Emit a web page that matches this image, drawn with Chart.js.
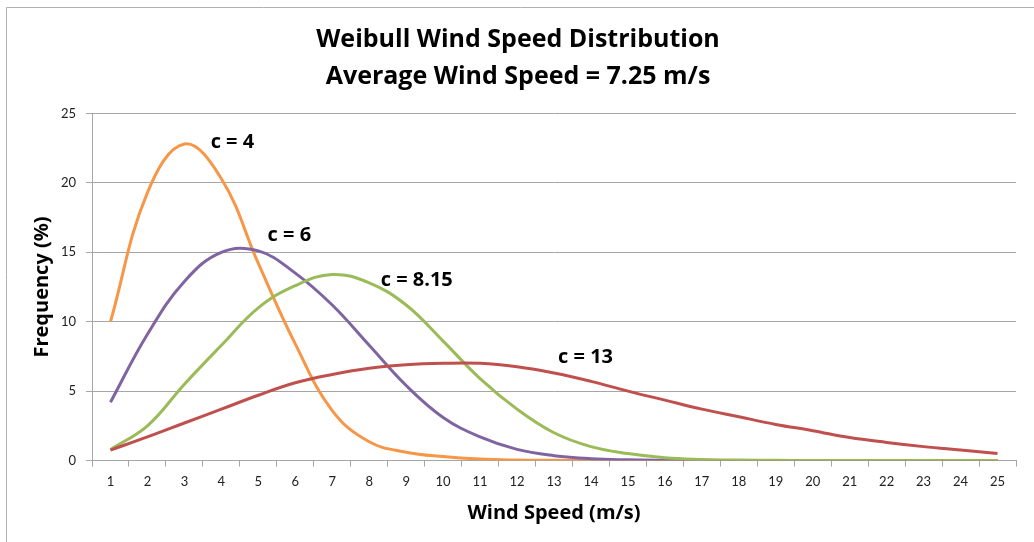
<!DOCTYPE html>
<html>
<head>
<meta charset="utf-8">
<title>Weibull Wind Speed Distribution</title>
<script src="https://cdn.jsdelivr.net/npm/chart.js@4/dist/chart.umd.min.js"></script>
<style>
    html, body { margin: 0; padding: 0; background: #fff; }
    #wrap { width: 1034px; height: 542px; }
</style>
</head>
<body>
<div id="wrap"><canvas id="weibullChart" width="1034" height="542"></canvas></div>
<script>
// ── Data ───────────────────────────────────────────────────────────────────

const windSpeeds = [1, 2, 3, 4, 5, 6, 7, 8, 9, 10, 11, 12, 13, 14, 15, 16, 17, 18, 19, 20, 21, 22, 23, 24, 25];

const freqC4   = [10.0, 19.3, 22.8, 20.3, 14.2, 8.4, 3.6, 1.35, 0.6, 0.28, 0.1, 0.03, 0.01, 0, 0, 0, 0, 0, 0, 0, 0, 0, 0, 0, 0];
const freqC6   = [4.2, 9.1, 12.9, 15.0, 15.1, 13.5, 11.2, 8.3, 5.4, 3.1, 1.7, 0.8, 0.35, 0.13, 0.05, 0.02, 0.01, 0, 0, 0, 0, 0, 0, 0, 0];
const freqC815 = [0.8, 2.5, 5.5, 8.3, 11.0, 12.6, 13.4, 12.8, 11.2, 8.6, 5.9, 3.7, 2.0, 1.0, 0.5, 0.2, 0.08, 0.03, 0.01, 0, 0, 0, 0, 0, 0];
const freqC13  = [0.75, 1.7, 2.7, 3.7, 4.7, 5.6, 6.2, 6.65, 6.9, 7.0, 7.0, 6.75, 6.3, 5.7, 5.0, 4.35, 3.7, 3.15, 2.6, 2.15, 1.65, 1.3, 1.0, 0.75, 0.5];

const seriesNames = ['c = 4', 'c = 6', 'c = 8.15', 'c = 13'];

// where each "c = ..." note sits, in axis units (wind speed, frequency)
const noteSpeed = [3.71, 5.25, 8.31, 13.11];
const noteFreq  = [22.9, 16.2, 13.0, 7.4];

const titleLines = ['Weibull Wind Speed Distribution', 'Average Wind Speed = 7.25 m/s'];

const COLORS     = ['#F79646', '#8064A2', '#9BBB59', '#C0504D'];
const GRID       = '#a6a6a6';
const FONT       = "Lato, 'Open Sans', sans-serif";
const FONT_TITLE = "'Open Sans', Lato, sans-serif";

// ── Plugins ────────────────────────────────────────────────────────────────

const framePlugin = {
    id: 'frame',
    beforeDraw(chart) {
        const { ctx, width, height } = chart;
        ctx.save();
        ctx.fillStyle = '#fff';
        ctx.fillRect(0, 0, width, height);
        ctx.strokeStyle = '#b0b0b0';
        ctx.lineWidth = 1;
        ctx.beginPath();
        ctx.moveTo(6.5, height);
        ctx.lineTo(6.5, 7.5);
        ctx.lineTo(width, 7.5);
        ctx.stroke();
        ctx.restore();
    },
};

const notesPlugin = {
    id: 'curveNotes',
    afterDatasetsDraw(chart) {
        const { ctx, scales: { x, y } } = chart;
        ctx.save();
        ctx.font         = `bold 20px ${FONT_TITLE}`;
        ctx.fillStyle    = '#000';
        ctx.textAlign    = 'left';
        ctx.textBaseline = 'middle';
        seriesNames.forEach((name, i) => {
            ctx.fillText(name, x.getPixelForValue(noteSpeed[i] - 1), y.getPixelForValue(noteFreq[i]));
        });
        ctx.restore();
    },
};

// ── Chart ──────────────────────────────────────────────────────────────────

function makeDataset(i, data) {
    return {
        label: seriesNames[i],
        data,
        borderColor: COLORS[i],
        backgroundColor: COLORS[i],
        borderWidth: 3,
        pointRadius: 0,
        fill: false,
        tension: 0.4,
        order: 4 - i,
    };
}

Chart.defaults.font.family = FONT;
Chart.defaults.color       = '#222';

new Chart(document.getElementById('weibullChart').getContext('2d'), {
    type: 'line',
    data: {
        labels: windSpeeds,
        datasets: [
            makeDataset(0, freqC4),
            makeDataset(1, freqC6),
            makeDataset(2, freqC815),
            makeDataset(3, freqC13),
        ],
    },
    options: {
        responsive: false,
        animation: false,
        devicePixelRatio: 1,
        layout: { padding: { left: 20, top: 0, right: 18, bottom: 10 } },
        plugins: {
            legend: { display: false },
            tooltip: { enabled: false },
            title: {
                display: true,
                text: titleLines,
                color: '#000',
                font: { family: FONT_TITLE, size: 25, weight: 'bold', lineHeight: 1.48 },
                padding: { top: 21.5, bottom: 18 },
            },
        },
        scales: {
            x: {
                type: 'category',
                offset: true,
                afterFit: (s) => { s.height = 71.5; },
                grid: { display: true, drawOnChartArea: false, offset: true, tickLength: 6, color: GRID },
                border: { color: GRID },
                ticks: { padding: 8, font: { size: 13 }, color: '#222', autoSkip: false, maxRotation: 0 },
                title: {
                    display: true,
                    text: 'Wind Speed (m/s)',
                    color: '#000',
                    font: { family: FONT_TITLE, size: 20, weight: 'bold', lineHeight: 1.2 },
                    padding: { top: 0, bottom: 7 },
                },
            },
            y: {
                min: 0,
                max: 25,
                afterFit: (s) => { s.width = 72; },
                grid: { color: GRID, tickLength: 6 },
                border: { color: GRID },
                ticks: { stepSize: 5, padding: 10, font: { size: 13 }, color: '#222' },
                title: {
                    display: true,
                    text: 'Frequency (%)',
                    color: '#000',
                    font: { family: FONT_TITLE, size: 20, weight: 'bold', lineHeight: 1.2 },
                    padding: { top: 10, bottom: 0 },
                },
            },
        },
    },
    plugins: [framePlugin, notesPlugin],
});
</script>
</body>
</html>
